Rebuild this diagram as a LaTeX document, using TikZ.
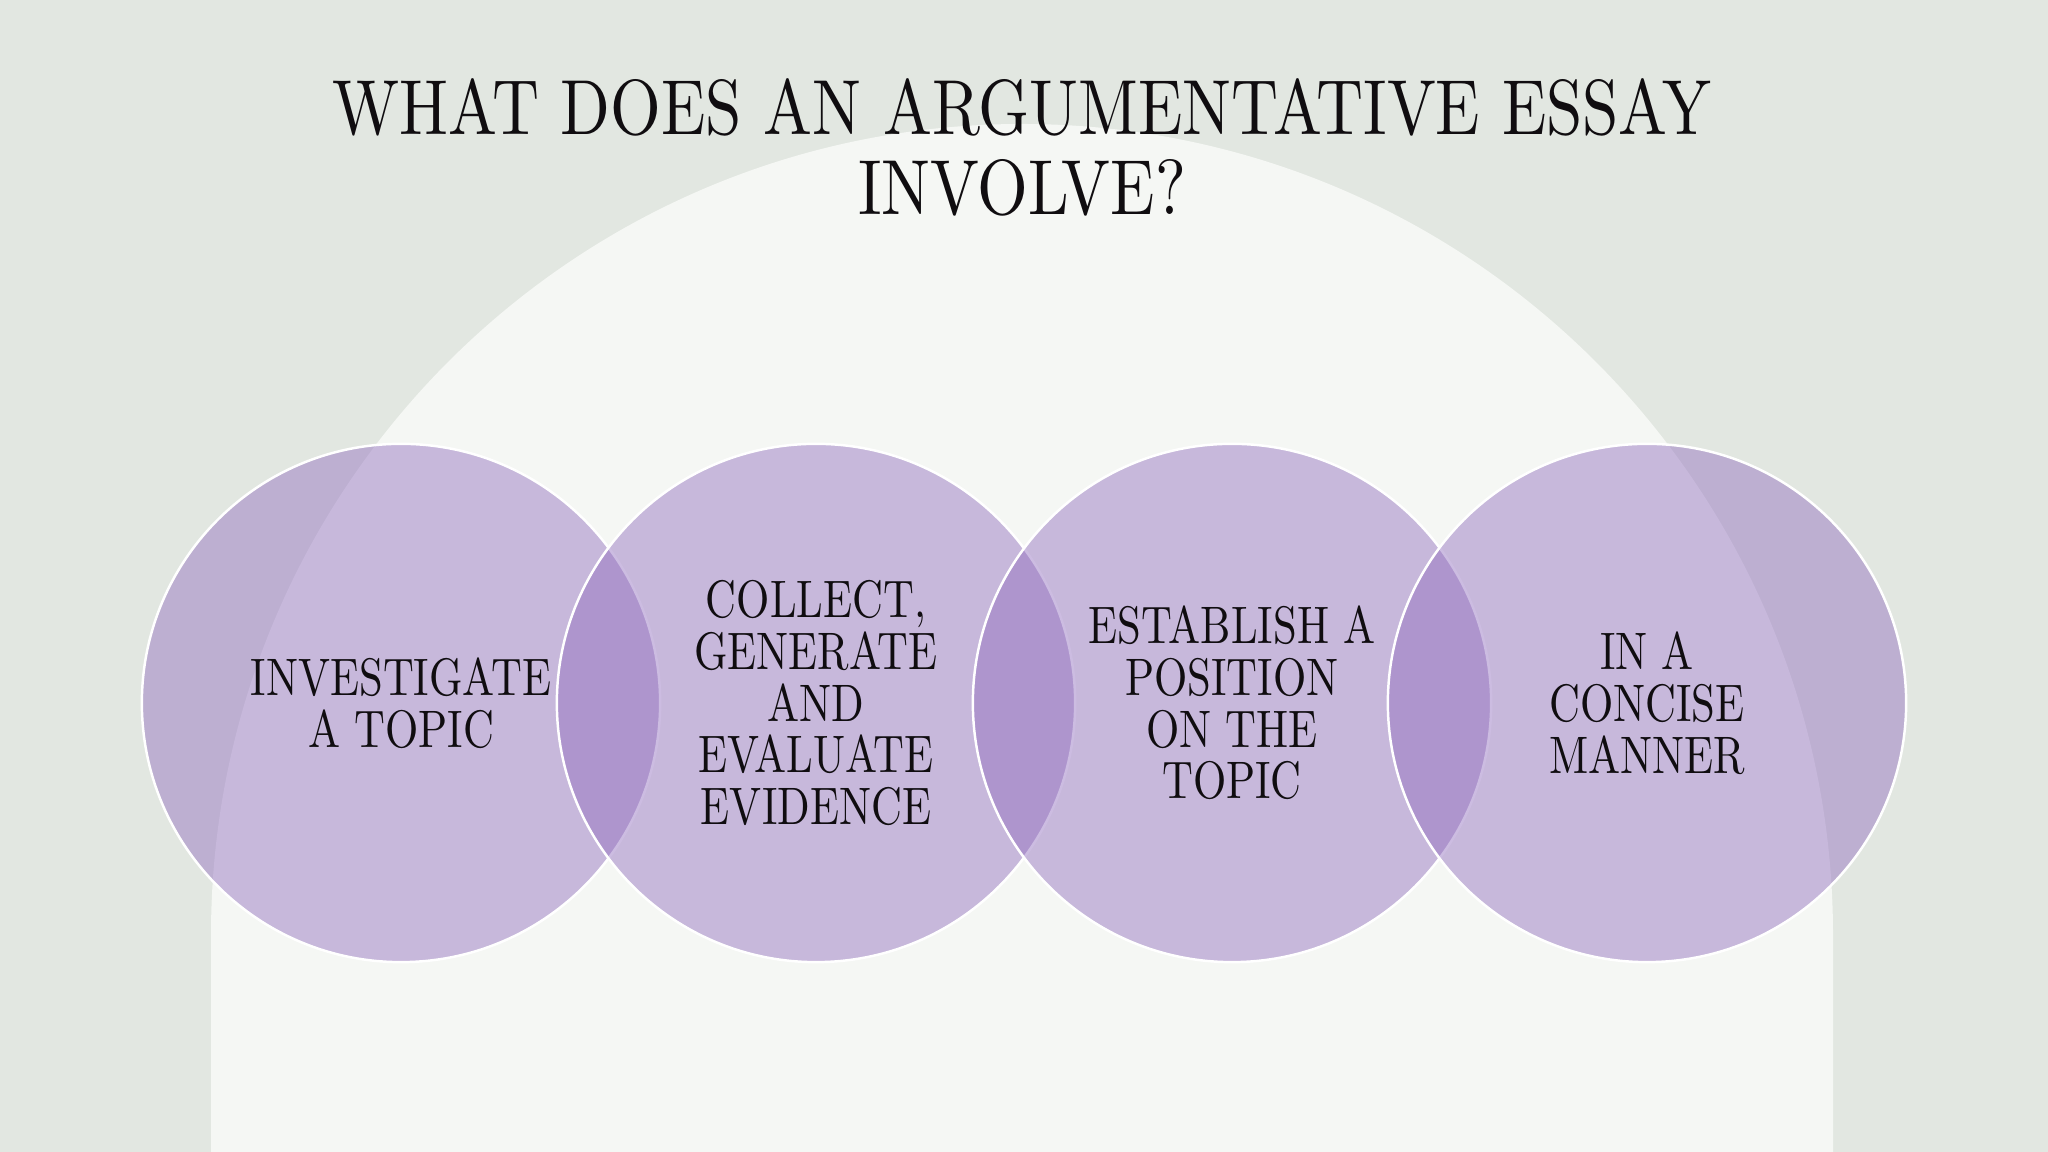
\documentclass[tikz,border=0pt]{standalone}
\usepackage{fontspec}
\newfontfamily\slidefont{lmroman10-regular.otf}[FakeStretch=0.81]
\newfontfamily\headfont{lmroman10-regular.otf}[FakeStretch=0.835]
\definecolor{bggray}{HTML}{E2E7E1}
\definecolor{archwhite}{HTML}{F5F7F4}
\definecolor{bubblepurple}{RGB}{144,108,190}
\definecolor{inkblack}{HTML}{100D10}
\begin{document}
\begin{tikzpicture}[x=0.01cm,y=0.01cm,
  bubble/.style={circle, minimum size=5.18cm, inner sep=0pt, fill=bubblepurple,
    fill opacity=0.45, text opacity=1, draw=white, line width=0.7pt, align=center,
    text=inkblack, font=\slidefont\fontsize{15}{14.72}\selectfont},
  titletext/.style={align=center, inner sep=0pt, text=inkblack,
    font=\headfont\fontsize{22.2}{22.76}\selectfont}]
\fill[bggray] (0,0) rectangle (2048,1152);
\useasboundingbox (0,0) rectangle (2048,1152);
\fill[archwhite] (211,0) -- (211,217) arc[start angle=180,end angle=0,radius=811] -- (1833,0) -- cycle;
\node[bubble] (c1) at (401,449) {INVESTIGATE\\A TOPIC};
\node[bubble] (c2) at (816,449) {COLLECT,\\GENERATE\\AND\\EVALUATE\\EVIDENCE};
\node[bubble] (c3) at (1232,449) {ESTABLISH A\\POSITION\\ON THE\\TOPIC};
\node[bubble] (c4) at (1647,449) {IN A\\CONCISE\\MANNER};
\node[titletext, anchor=north] (title) at (1022,1074) {WHAT DOES AN ARGUMENTATIVE ESSAY\\INVOLVE?};
\end{tikzpicture}
\end{document}
